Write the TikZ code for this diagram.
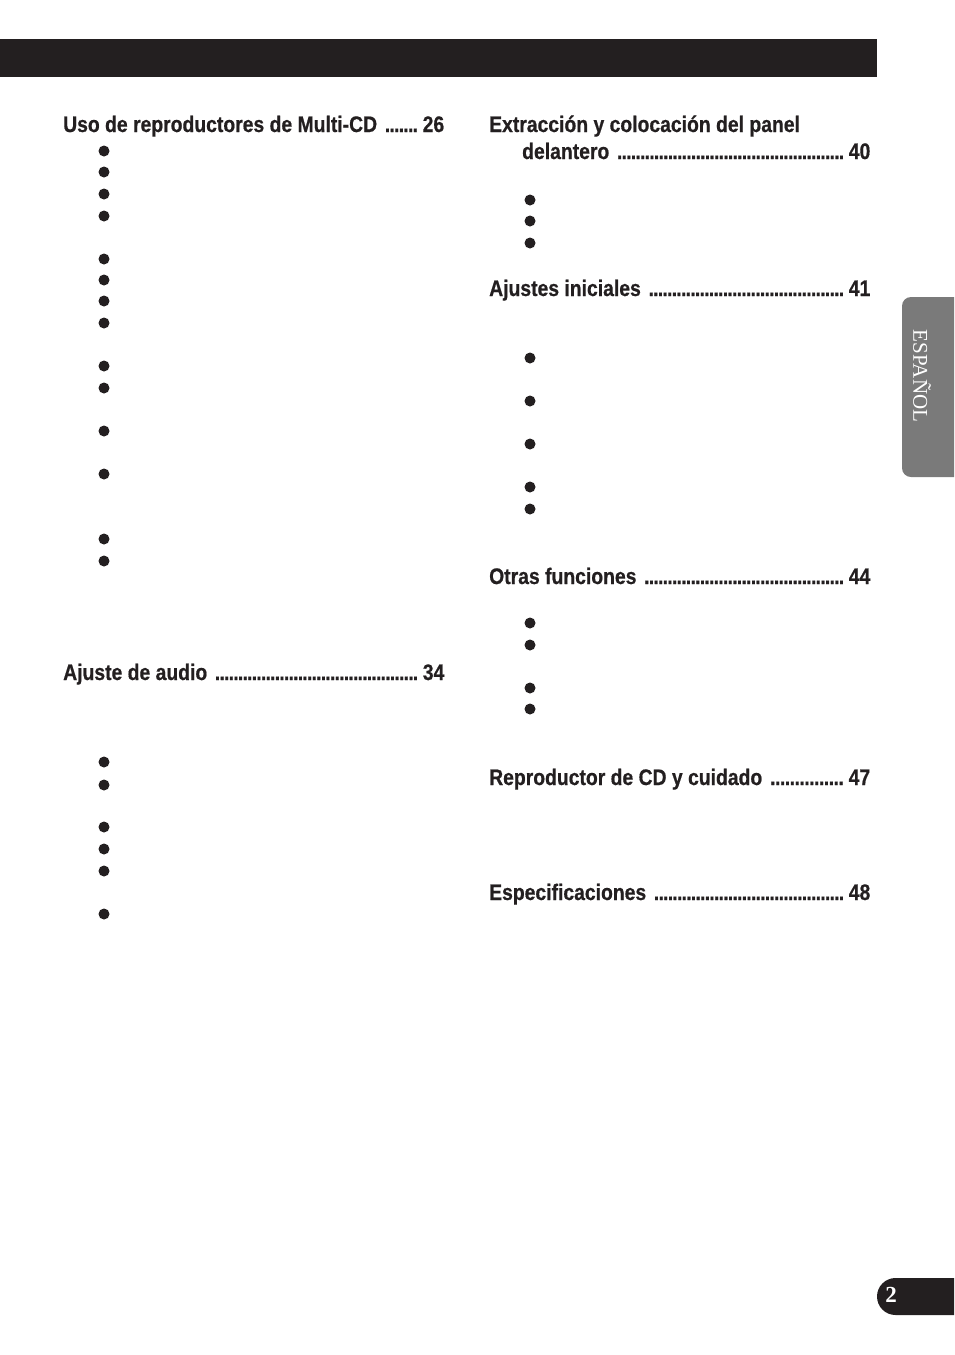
\documentclass[tikz,border=0pt]{standalone}
\usepackage{fontspec}
\newfontfamily\hd{Liberation Sans}[FakeStretch=0.86,FakeBold=0.6]
\newfontfamily\srf{Liberation Serif}
\definecolor{ink}{HTML}{231F20}
\definecolor{tabgray}{HTML}{7A7A7A}
\newcommand{\tocrow}[3]{\makebox[#1][l]{#2\hspace{8pt}\xleaders\hbox to 4.6pt{\hss.\hss}\hfill\hspace{5pt}#3}}
\begin{document}
\begin{tikzpicture}[x=1pt,y=-1pt,
  head/.style={anchor=base west,inner sep=0pt,font=\hd\bfseries\fontsize{22.5}{22.5}\selectfont,text=ink},
  dot/.style={circle,fill=ink,inner sep=0pt,minimum size=11pt}]
\useasboundingbox (0,0) rectangle (954,1355);
\begin{scope}
\clip (0,0) rectangle (954,1355);
% top bar
\fill[ink] (0,39) rectangle (877,77);
% language tab
\fill[tabgray,rounded corners=9pt] (902,297) rectangle (980,477);
% page number tab
\fill[ink,rounded corners=18.5pt] (877,1278) rectangle (1000,1315);
\end{scope}
\node[rotate=-90,text=white,font=\srf\fontsize{21}{21}\selectfont,inner sep=0pt] (lang) at (922,376) {ESPAÑOL};
\node[text=white,font=\srf\bfseries\fontsize{23}{23}\selectfont,inner sep=0pt] (pnum) at (891,1295) {2};
% left column headings
\node[head] (h1) at (63,132) {\tocrow{381pt}{Uso de reproductores de Multi-CD}{26}};
\node[head] (h2) at (63,680) {\tocrow{381pt}{Ajuste de audio}{34}};
% right column headings
\node[head] (h3) at (489,132) {Extracción y colocación del panel};
\node[head] (h3b) at (522,159) {\tocrow{348pt}{delantero}{40}};
\node[head] (h4) at (489,296) {\tocrow{381pt}{Ajustes iniciales}{41}};
\node[head] (h5) at (489,584) {\tocrow{381pt}{Otras funciones}{44}};
\node[head] (h6) at (489,785) {\tocrow{381pt}{Reproductor de CD y cuidado}{47}};
\node[head] (h7) at (489,900) {\tocrow{381pt}{Especificaciones}{48}};
% bullets
\foreach \yy [count=\i] in {151,172,194,216,259,280,301,323,366,388,431,474,539,561,762,785,827,849,871,914}
  \node[dot] (L\i) at (104,\yy) {};
\foreach \yy [count=\i] in {200,221,243,358,401,444,487,509,623,645,688,709}
  \node[dot] (R\i) at (530,\yy) {};
\end{tikzpicture}
\end{document}
